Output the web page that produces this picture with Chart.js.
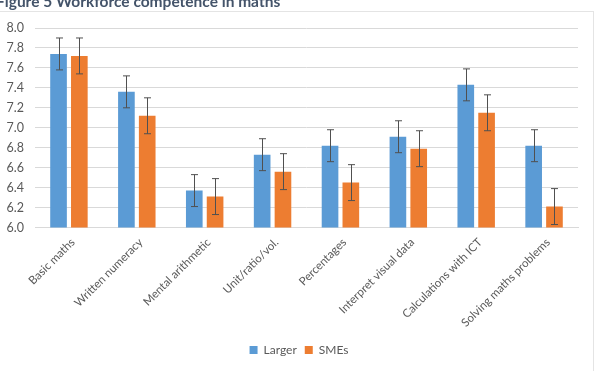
<!DOCTYPE html>
<html>
<head>
<meta charset="utf-8">
<script src="https://cdn.jsdelivr.net/npm/chart.js@4.4.1/dist/chart.umd.min.js"></script>
<style>
  body { margin: 0; background: #fff; }
  #wrap { position: relative; width: 597px; height: 371px; overflow: hidden; }
  #title {
    position: absolute; left: -4px; top: -8px;
    font: bold 15.5px Lato, sans-serif; line-height: 18px;
    color: #44546A; white-space: nowrap;
  }
  canvas { position: absolute; left: 0; top: 0; }
</style>
</head>
<body>
<div id="wrap">
  <canvas id="barChart" width="597" height="371"></canvas>
  <div id="title">Figure 5 Workforce competence in maths</div>
</div>
<script>
const categories = ['Basic maths', 'Written numeracy', 'Mental arithmetic', 'Unit/ratio/vol.',
  'Percentages', 'Interpret visual data', 'Calculations with ICT', 'Solving maths problems'];
const larger = [7.74, 7.36, 6.37, 6.73, 6.82, 6.91, 7.43, 6.82];
const smes = [7.72, 7.12, 6.31, 6.56, 6.45, 6.79, 7.15, 6.21];
const largerErr = [0.16, 0.16, 0.16, 0.16, 0.16, 0.16, 0.16, 0.16];
const smesErr = [0.18, 0.18, 0.18, 0.18, 0.18, 0.18, 0.18, 0.18];
const yTicks = [6.0, 6.2, 6.4, 6.6, 6.8, 7.0, 7.2, 7.4, 7.6, 7.8, 8.0];

const grey = '#595959';
const font = { family: 'Lato', size: 12 };

//------------error bars------------
const errorBars = {
  id: 'errorBars',
  afterDatasetsDraw(chart) {
    const ctx = chart.ctx;
    const y = chart.scales.y;
    ctx.save();
    ctx.strokeStyle = '#505050';
    ctx.lineWidth = 1;
    chart.data.datasets.forEach((ds, i) => {
      chart.getDatasetMeta(i).data.forEach((bar, j) => {
        const v = ds.data[j];
        const e = ds.errors[j];
        const top = y.getPixelForValue(v + e);
        const bot = y.getPixelForValue(v - e);
        const x = Math.round(bar.x) + 0.5;
        ctx.beginPath();
        ctx.moveTo(x, top); ctx.lineTo(x, bot);
        ctx.moveTo(x - 3.5, top); ctx.lineTo(x + 3.5, top);
        ctx.moveTo(x - 3.5, bot); ctx.lineTo(x + 3.5, bot);
        ctx.stroke();
      });
    });
    ctx.restore();
  }
};

// x labels get clipped to the scale box, let them run down to the canvas edge;
// legend sits centred on the whole frame, not on the padded area
const fixLayout = {
  id: 'fixLayout',
  afterLayout(chart) {
    chart.scales.x.bottom = chart.height;
    chart.legend.left = 10;
    chart.legend.right = 588;
  }
};

// faint outline of the chart object
const frame = {
  id: 'frame',
  beforeDraw(chart) {
    const ctx = chart.ctx;
    ctx.save();
    ctx.strokeStyle = '#E4E4E4';
    ctx.lineWidth = 1;
    ctx.strokeRect(-2.5, 11.5, 596, 370);
    ctx.restore();
  }
};

const ctx = document.getElementById('barChart').getContext('2d');

new Chart(ctx, {
  type: 'bar',
  data: {
    labels: categories,
    datasets: [
      { label: 'Larger', data: larger, errors: largerErr, backgroundColor: '#5B9BD5' },
      { label: 'SMEs', data: smes, errors: smesErr, backgroundColor: '#ED7D31' }
    ]
  },
  options: {
    responsive: false,
    animation: false,
    categoryPercentage: 0.613,
    barPercentage: 0.8,
    layout: { padding: { top: 28, right: 19, bottom: 5, left: 0 } },
    plugins: {
      title: { display: false },
      tooltip: { enabled: false },
      legend: {
        position: 'bottom',
        labels: { boxWidth: 8, boxHeight: 8, color: grey, font: font, padding: 8 }
      }
    },
    scales: {
      x: {
        grid: { display: false, drawTicks: false },
        border: { color: '#D9D9D9' },
        ticks: {
          color: grey, font: { family: 'Lato', size: 11.5 },
          minRotation: 45, maxRotation: 45, autoSkip: false, padding: 8, labelOffset: 4
        },
        afterFit(scale) { scale.height = 108.5; }
      },
      y: {
        min: 6, max: 8,
        grid: { color: '#D9D9D9', drawTicks: false },
        border: { display: false },
        afterBuildTicks(scale) { scale.ticks = yTicks.map(v => ({ value: v })); },
        ticks: { color: grey, font: { family: 'Lato', size: 12.5 }, padding: 11, callback: v => v.toFixed(1) },
        afterFit(scale) { scale.width = 35; }
      }
    }
  },
  plugins: [frame, errorBars, fixLayout]
});
</script>
</body>
</html>
